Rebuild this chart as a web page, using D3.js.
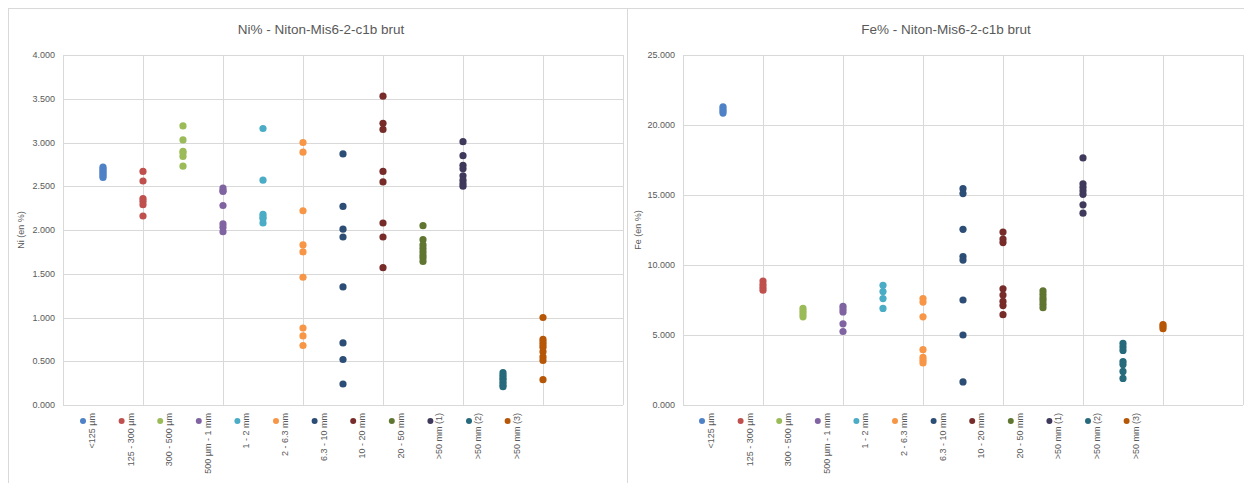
<!DOCTYPE html>
<html><head><meta charset="utf-8">
<script src="https://cdn.jsdelivr.net/npm/d3@7"></script>
<style>
body{margin:0;background:#fff;}
svg text{font-family:"Liberation Sans","DejaVu Sans",sans-serif;fill:#595959;}
</style></head>
<body><svg id="c" width="1244" height="483"></svg>
<script>
const categories = ["<125 µm","125 - 300 µm","300 - 500 µm","500 µm - 1 mm","1 - 2 mm","2 - 6.3 mm","6.3 - 10 mm","10 - 20 mm","20 - 50 mm",">50 mm (1)",">50 mm (2)",">50 mm (3)"];
const colors = ["#4f81c7","#c0504d","#9bbb59","#8064a2","#4bacc6","#f79646","#2c4d75","#772c2a","#5f7530","#3f3a5c","#276a7c","#b65708"];
const niValues = [
  [2.72,2.70,2.68,2.66,2.64,2.62,2.60],
  [2.67,2.56,2.36,2.33,2.29,2.16],
  [3.19,3.03,2.90,2.88,2.84,2.73],
  [2.48,2.45,2.44,2.28,2.07,2.03,1.98],
  [3.16,2.57,2.18,2.15,2.13,2.08],
  [3.00,2.89,2.22,1.83,1.75,1.46,0.88,0.79,0.68],
  [2.87,2.27,2.01,1.92,1.35,0.71,0.52,0.24],
  [3.53,3.22,3.15,2.67,2.55,2.08,1.92,1.57],
  [2.05,1.89,1.83,1.79,1.75,1.71,1.68,1.64],
  [3.01,2.85,2.74,2.70,2.62,2.57,2.53,2.50],
  [0.37,0.34,0.31,0.29,0.26,0.23,0.21],
  [1.00,0.75,0.72,0.69,0.66,0.61,0.55,0.51,0.29]
];
const feValues = [
  [21.3,21.15,21.0,20.85],
  [8.85,8.6,8.4,8.2],
  [6.9,6.7,6.5,6.3],
  [7.05,6.85,6.65,5.8,5.25],
  [8.55,8.1,7.6,6.9],
  [7.6,7.35,6.3,3.95,3.4,3.2,3.0],
  [15.45,15.1,12.55,10.6,10.35,7.5,5.0,1.65],
  [12.35,11.85,11.6,8.3,7.85,7.4,7.1,6.45],
  [8.15,7.9,7.65,7.45,7.2,6.95],
  [17.65,15.8,15.55,15.3,15.05,14.3,13.7],
  [4.4,4.15,3.9,3.1,2.9,2.4,1.9],
  [5.75,5.6,5.45]
];
const niTicks = [0,0.5,1,1.5,2,2.5,3,3.5,4];
const feTicks = [0,5,10,15,20,25];

const svg = d3.select("#c");
// chart borders
svg.append("rect").attr("x",8.5).attr("y",8.5).attr("width",619).attr("height",490).attr("fill","none").attr("stroke","#d9d9d9");
svg.append("rect").attr("x",627.5).attr("y",8.5).attr("width",630).attr("height",490).attr("fill","none").attr("stroke","#d9d9d9");

function drawChart(o){
  const g = svg.append("g");
  const x = d3.scaleLinear().domain([0,14]).range([o.left, o.left+560]);
  const y = d3.scaleLinear().domain(o.domain).range([405,55]);
  // horizontal gridlines
  g.selectAll(".hg").data(o.ticks).enter().append("line")
    .attr("x1",x(0)).attr("x2",x(14)).attr("y1",d=>Math.round(y(d))+0.5).attr("y2",d=>Math.round(y(d))+0.5)
    .attr("stroke","#d9d9d9").attr("stroke-width",1);
  // vertical gridlines
  g.selectAll(".vg").data(d3.range(0,15,2)).enter().append("line")
    .attr("x1",d=>Math.round(x(d))+0.5).attr("x2",d=>Math.round(x(d))+0.5).attr("y1",y(o.domain[1])).attr("y2",y(0))
    .attr("stroke","#d9d9d9").attr("stroke-width",1);
  // y tick labels
  g.selectAll(".yl").data(o.ticks).enter().append("text")
    .attr("x",o.left-8).attr("y",d=>y(d)+3).attr("text-anchor","end").attr("font-size",9)
    .text(d=>d3.format(".3f")(d).replace(/(\d)(?=(\d{3})+\.)/g,"$1,"));
  // y axis title
  g.append("text").attr("transform",`translate(${o.ytx},230) rotate(-90)`).attr("text-anchor","middle").attr("font-size",9).text(o.ytitle);
  // title
  g.append("text").attr("x",o.tx).attr("y",34).attr("text-anchor","middle").attr("font-size",13.5).text(o.title);
  // points
  o.values.forEach((vals,i)=>{
    g.selectAll(null).data(vals).enter().append("circle")
      .attr("cx",x(i+1)).attr("cy",d=>y(d)).attr("r",3.6).attr("fill",colors[i]);
  });
  // legend
  const lg = g.selectAll(".lg").data(categories).enter().append("g")
    .attr("transform",(d,i)=>`translate(${o.legX + i*38.6},421)`);
  lg.append("circle").attr("r",3).attr("fill",(d,i)=>colors[i]);
  lg.append("text").attr("transform","translate(12,-8) rotate(-90)").attr("text-anchor","end").attr("font-size",9).text(d=>d);
}
drawChart({left:63,domain:[0,4],ticks:niTicks,values:niValues,title:"Ni% - Niton-Mis6-2-c1b brut",tx:321,ytitle:"Ni (en %)",ytx:24,legX:83});
drawChart({left:683,domain:[0,25],ticks:feTicks,values:feValues,title:"Fe% - Niton-Mis6-2-c1b brut",tx:946,ytitle:"Fe (en %)",ytx:641,legX:702});
</script></body></html>
